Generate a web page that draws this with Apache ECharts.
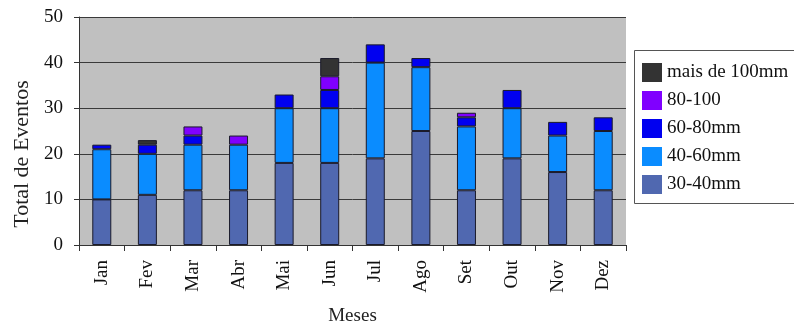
<!DOCTYPE html>
<html>
<head>
<meta charset="utf-8">
<script src="https://cdn.jsdelivr.net/npm/echarts@6/dist/echarts.min.js"></script>
<style>
html,body{margin:0;padding:0;background:#fff;}
#chart{width:794px;height:324px;}
</style>
</head>
<body>
<div id="chart"></div>
<script>
const months = ['Jan','Fev','Mar','Abr','Mai','Jun','Jul','Ago','Set','Out','Nov','Dez'];
const yTicks = [0, 10, 20, 30, 40, 50];
const seriesNames = ['30-40mm', '40-60mm', '60-80mm', '80-100', 'mais de 100mm'];
const s30_40  = [10, 11, 12, 12, 18, 18, 19, 25, 12, 19, 16, 12];
const s40_60  = [11,  9, 10, 10, 12, 12, 21, 14, 14, 11,  8, 13];
const s60_80  = [ 1,  2,  2,  0,  3,  4,  4,  2,  2,  4,  3,  3];
const s80_100 = [ 0,  0,  2,  2,  0,  3,  0,  0,  1,  0,  0,  0];
const s100    = [ 0,  1,  0,  0,  0,  4,  0,  0,  0,  0,  0,  0];
const seriesValues = [s30_40, s40_60, s60_80, s80_100, s100];
const colors = ['#5068b0', '#0a8cff', '#0000f0', '#8000ff', '#333333'];

const font = '"Liberation Serif", "DejaVu Serif", serif';
const chart = echarts.init(document.getElementById('chart'), null, {renderer: 'canvas'});

const series = seriesNames.map((name, i) => ({
  name: name,
  type: 'bar',
  stack: 'total',
  barWidth: 19,
  itemStyle: {color: colors[i], borderColor: '#1a1a2a', borderWidth: 1},
  emphasis: {disabled: true},
  data: seriesValues[i].map(v => v === 0 ? '-' : v)
}));

chart.setOption({
  animation: false,
  backgroundColor: '#ffffff',
  textStyle: {fontFamily: font},
  grid: {left: 79, right: 168, top: 17, bottom: 79, show: true, backgroundColor: '#c0c0c0', borderWidth: 0,
         containLabel: false, outerBoundsMode: 'none'},
  legend: {
    orient: 'vertical',
    left: 634, top: 50,
    padding: [13, 0, 13, 8],
    borderWidth: 0,
    backgroundColor: 'transparent',
    itemWidth: 20, itemHeight: 19, itemGap: 9,
    icon: 'rect',
    itemStyle: {borderWidth: 0},
    textStyle: {fontFamily: font, fontSize: 19, color: '#111'},
    data: seriesNames.slice().reverse()
  },
  xAxis: {
    type: 'category',
    data: months,
    name: 'Meses',
    nameLocation: 'middle',
    nameGap: 62,
    nameTextStyle: {fontFamily: font, fontSize: 19, color: '#222'},
    axisLine: {lineStyle: {color: '#333', width: 1}},
    axisTick: {show: true, alignWithLabel: false, length: 6, lineStyle: {color: '#333'}},
    axisLabel: {rotate: 90, margin: 15, fontFamily: font, fontSize: 19, color: '#111'}
  },
  yAxis: {
    type: 'value',
    min: yTicks[0], max: yTicks[yTicks.length - 1], interval: 10,
    axisLine: {show: true, lineStyle: {color: '#333', width: 1}},
    axisTick: {show: true, length: 5, lineStyle: {color: '#333'}},
    axisLabel: {margin: 16, fontFamily: font, fontSize: 19, color: '#111'},
    splitLine: {show: true, lineStyle: {color: '#3a3a3a', width: 1}}
  },
  graphic: [{
    type: 'text',
    x: 22, y: 154,
    rotation: Math.PI / 2,
    style: {text: 'Total de Eventos', font: '22px ' + font, fill: '#222', align: 'center', verticalAlign: 'middle'}
  }, {
    type: 'line', z: -1,
    shape: {x1: 634.5, y1: 50.5, x2: 794, y2: 50.5},
    style: {stroke: '#555', lineWidth: 1}
  }, {
    type: 'line', z: -1,
    shape: {x1: 634.5, y1: 50.5, x2: 634.5, y2: 203.5},
    style: {stroke: '#555', lineWidth: 1}
  }, {
    type: 'line', z: -1,
    shape: {x1: 634.5, y1: 203.5, x2: 794, y2: 203.5},
    style: {stroke: '#555', lineWidth: 1}
  }],
  series: series
});
</script>
</body>
</html>
